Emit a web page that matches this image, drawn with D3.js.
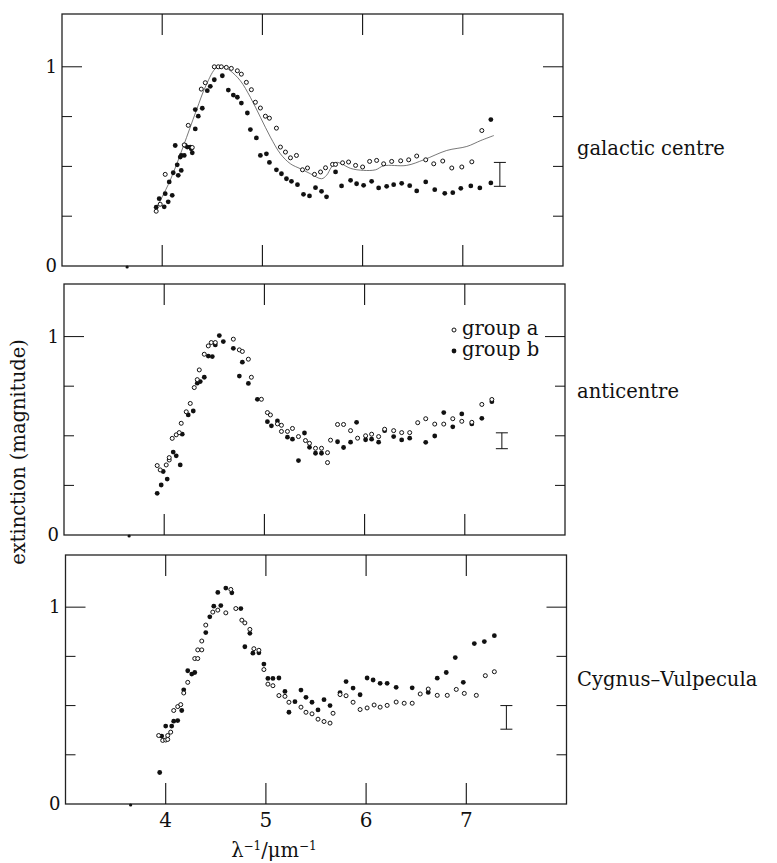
<!DOCTYPE html>
<html>
<head>
<meta charset="utf-8">
<script src="https://cdn.jsdelivr.net/npm/d3@7"></script>
<style>
  body { margin: 0; background: #fff; }
  text { font-family: "DejaVu Serif", serif; fill: #111; }
</style>
</head>
<body>
<div id="chart"></div>
<script>
// values: [λ^-1 (µm^-1), extinction (mag)]

// galactic centre
const gcGroupA = [[3.94,0.275],[3.98,0.31],[4.03,0.46],[4.22,0.608],[4.26,0.706],[4.30,0.595],[4.39,0.888],[4.43,0.92],
  [4.52,1.0],[4.56,1.0],[4.59,1.0],[4.64,0.997],[4.69,0.992],[4.75,0.98],[4.79,0.963],[4.84,0.922],[4.89,0.885],
  [4.93,0.822],[4.98,0.793],[5.03,0.752],[5.07,0.742],[5.14,0.692],[5.18,0.597],[5.23,0.572],[5.28,0.543],[5.34,0.555],
  [5.40,0.483],[5.45,0.492],[5.52,0.46],[5.58,0.472],[5.63,0.493],[5.70,0.51],[5.73,0.51],[5.80,0.518],[5.86,0.522],
  [5.93,0.505],[6.00,0.497],[6.07,0.525],[6.14,0.53],[6.21,0.513],[6.29,0.525],[6.38,0.528],[6.46,0.533],[6.54,0.552],
  [6.63,0.533],[6.71,0.513],[6.80,0.527],[6.89,0.492],[6.99,0.497],[7.09,0.523],[7.19,0.68]];
const gcGroupB = [[3.94,0.295],[3.97,0.338],[4.02,0.297],[4.03,0.363],[4.06,0.322],[4.10,0.355],[4.07,0.422],[4.11,0.468],
  [4.13,0.605],[4.15,0.508],[4.16,0.455],[4.18,0.547],[4.19,0.48],[4.19,0.555],[4.22,0.555],[4.23,0.605],[4.25,0.597],
  [4.28,0.597],[4.29,0.588],[4.30,0.568],[4.33,0.688],[4.33,0.785],[4.36,0.752],[4.40,0.792],[4.45,0.88],[4.48,0.902],
  [4.52,0.935],[4.60,0.955],[4.66,0.883],[4.71,0.858],[4.75,0.847],[4.79,0.818],[4.85,0.768],[4.88,0.685],[4.94,0.643],
  [4.98,0.555],[5.04,0.563],[5.07,0.52],[5.14,0.483],[5.19,0.463],[5.24,0.438],[5.29,0.425],[5.35,0.408],[5.41,0.36],
  [5.47,0.352],[5.53,0.393],[5.59,0.375],[5.64,0.347],[5.73,0.472],[5.79,0.402],[5.88,0.43],[5.94,0.413],[6.01,0.405],
  [6.09,0.425],[6.16,0.392],[6.24,0.40],[6.31,0.408],[6.39,0.415],[6.47,0.403],[6.54,0.377],[6.63,0.422],[6.72,0.383],
  [6.82,0.365],[6.90,0.368],[6.98,0.39],[7.08,0.402],[7.17,0.392],[7.28,0.417],[7.28,0.735]];
const gcCurve = [[3.93,0.28],[4.08,0.43],[4.21,0.60],[4.34,0.78],[4.44,0.91],[4.54,0.995],[4.61,1.0],[4.68,0.98],
  [4.78,0.93],[4.88,0.847],[4.98,0.747],[5.08,0.647],[5.18,0.563],[5.28,0.513],[5.38,0.488],[5.48,0.463],[5.59,0.438],
  [5.64,0.455],[5.69,0.497],[5.74,0.52],[5.79,0.513],[5.88,0.49],[6.01,0.48],[6.13,0.483],[6.21,0.503],[6.44,0.505],
  [6.61,0.533],[6.84,0.58],[7.04,0.60],[7.18,0.63],[7.31,0.655]];

// anticentre
const acGroupA = [[3.93,0.35],[3.96,0.328],[4.02,0.353],[4.05,0.378],[4.05,0.39],[4.08,0.487],[4.12,0.505],[4.15,0.516],
  [4.17,0.563],[4.22,0.621],[4.26,0.663],[4.30,0.743],[4.33,0.783],[4.35,0.832],[4.40,0.911],[4.44,0.953],[4.47,0.97],
  [4.51,0.97],[4.69,0.987],[4.75,0.933],[4.78,0.925],[4.84,0.886],[4.87,0.795],[4.97,0.684],[5.03,0.617],[5.06,0.605],
  [5.13,0.56],[5.17,0.553],[5.17,0.522],[5.23,0.522],[5.28,0.537],[5.34,0.496],[5.41,0.476],[5.45,0.462],[5.51,0.437],
  [5.57,0.437],[5.63,0.415],[5.63,0.365],[5.66,0.478],[5.73,0.557],[5.79,0.557],[5.86,0.526],[5.93,0.488],[6.01,0.5],
  [6.07,0.508],[6.14,0.496],[6.20,0.533],[6.29,0.526],[6.37,0.516],[6.45,0.516],[6.53,0.566],[6.61,0.586],[6.70,0.559],
  [6.79,0.559],[6.88,0.586],[6.97,0.573],[7.07,0.568],[7.17,0.658],[7.27,0.683]];
const acGroupB = [[3.93,0.21],[3.97,0.252],[3.99,0.32],[4.03,0.282],[4.09,0.418],[4.12,0.399],[4.16,0.353],[4.18,0.508],
  [4.24,0.605],[4.29,0.625],[4.33,0.765],[4.36,0.773],[4.40,0.795],[4.44,0.902],[4.48,0.899],[4.51,0.958],[4.55,1.005],
  [4.59,0.975],[4.69,0.941],[4.75,0.801],[4.78,0.871],[4.84,0.764],[4.93,0.684],[5.03,0.571],[5.07,0.55],[5.13,0.575],
  [5.23,0.493],[5.28,0.483],[5.34,0.375],[5.40,0.514],[5.45,0.442],[5.51,0.412],[5.57,0.412],[5.73,0.47],[5.79,0.441],
  [5.86,0.468],[5.92,0.568],[6.01,0.48],[6.07,0.483],[6.14,0.468],[6.20,0.526],[6.29,0.496],[6.37,0.479],[6.45,0.488],
  [6.61,0.467],[6.70,0.499],[6.79,0.617],[6.88,0.545],[6.97,0.610],[7.07,0.56],[7.17,0.588],[7.27,0.672]];

// Cygnus-Vulpecula
const cvGroupA = [[3.93,0.348],[3.97,0.323],[4.00,0.325],[4.02,0.328],[4.02,0.348],[4.05,0.365],[4.08,0.475],[4.12,0.495],
  [4.15,0.505],[4.18,0.564],[4.22,0.618],[4.29,0.739],[4.32,0.739],[4.32,0.783],[4.36,0.783],[4.36,0.828],[4.40,0.909],
  [4.47,0.975],[4.52,0.985],[4.60,0.971],[4.65,1.09],[4.70,0.993],[4.76,0.934],[4.79,0.92],[4.84,0.887],[4.88,0.789],
  [4.93,0.781],[4.98,0.683],[5.02,0.609],[5.07,0.601],[5.13,0.551],[5.19,0.547],[5.23,0.517],[5.35,0.492],[5.40,0.466],
  [5.46,0.458],[5.52,0.431],[5.58,0.419],[5.64,0.411],[5.67,0.461],[5.74,0.556],[5.80,0.55],[5.87,0.517],[5.94,0.48],
  [6.01,0.488],[6.08,0.503],[6.14,0.492],[6.21,0.501],[6.30,0.518],[6.38,0.512],[6.46,0.512],[6.54,0.559],[6.62,0.584],
  [6.71,0.552],[6.81,0.552],[6.90,0.582],[6.98,0.562],[7.10,0.552],[7.19,0.652],[7.28,0.672]];
const cvGroupB = [[3.94,0.16],[3.96,0.345],[4.00,0.396],[4.06,0.396],[4.08,0.421],[4.12,0.424],[4.16,0.475],[4.18,0.58],
  [4.22,0.677],[4.26,0.66],[4.29,0.668],[4.40,0.871],[4.44,0.951],[4.48,1.005],[4.52,1.075],[4.55,1.008],[4.60,1.097],
  [4.66,1.073],[4.75,0.993],[4.79,0.799],[4.84,0.867],[4.87,0.766],[4.93,0.768],[4.98,0.711],[5.02,0.638],[5.07,0.638],
  [5.13,0.64],[5.19,0.572],[5.23,0.466],[5.29,0.52],[5.35,0.579],[5.40,0.542],[5.46,0.517],[5.52,0.478],[5.58,0.53],
  [5.64,0.5],[5.74,0.566],[5.80,0.622],[5.87,0.589],[5.94,0.555],[6.01,0.64],[6.07,0.63],[6.14,0.613],[6.21,0.613],
  [6.30,0.593],[6.46,0.59],[6.62,0.567],[6.71,0.639],[6.80,0.668],[6.89,0.744],[6.97,0.618],[7.08,0.815],[7.18,0.825],
  [7.28,0.855]];

// typical error bar per panel: [x, low, high]
const errorBars = [[7.37,0.40,0.52],[7.37,0.435,0.515],[7.40,0.38,0.50]];
const panelNames = ["galactic centre", "anticentre", "Cygnus\u2013Vulpecula"];
const legendNames = ["group a", "group b"];
const xTicks = [4, 5, 6, 7];
const yMinorTicks = [0.25, 0.5, 0.75];
const yLabelTicks = [0, 1];
const strayMark = 3.65;

// layout (pixel boxes of the three frames in the scan)
const width = 777, height = 863;
const panels = [
  {left: 62,   top: 14,  bottom: 266, a: gcGroupA, b: gcGroupB, curve: gcCurve, labelY: 155},
  {left: 64,   top: 284, bottom: 535, a: acGroupA, b: acGroupB, curve: null,    labelY: 398},
  {left: 65.5, top: 555, bottom: 804, a: cvGroupA, b: cvGroupB, curve: null,    labelY: 686}
];
const plotW = 501;
const ink = "#111";

const svg = d3.select("#chart").append("svg")
  .attr("width", width)
  .attr("height", height);

panels.forEach((p, i) => {
  const x = d3.scaleLinear().domain([3, 8]).range([p.left, p.left + plotW]);
  const y = d3.scaleLinear().domain([0, 1.265]).range([p.bottom, p.top]);
  const g = svg.append("g");

  // frame
  g.append("rect")
    .attr("x", x(3)).attr("y", y(1.265))
    .attr("width", x(8) - x(3)).attr("height", y(0) - y(1.265))
    .attr("fill", "none").attr("stroke", "#222").attr("stroke-width", 1.3);

  // x ticks, bottom and top
  xTicks.forEach(t => {
    g.append("line").attr("x1", x(t)).attr("x2", x(t))
      .attr("y1", y(0)).attr("y2", y(0) - 21).attr("stroke", ink).attr("stroke-width", 1.1);
    g.append("line").attr("x1", x(t)).attr("x2", x(t))
      .attr("y1", y(1.265)).attr("y2", y(1.265) + 21).attr("stroke", ink).attr("stroke-width", 1.1);
  });

  // y ticks, left and right
  yMinorTicks.forEach(t => {
    g.append("line").attr("x1", x(3)).attr("x2", x(3) + 10)
      .attr("y1", y(t)).attr("y2", y(t)).attr("stroke", ink).attr("stroke-width", 1);
    g.append("line").attr("x1", x(8)).attr("x2", x(8) - 10)
      .attr("y1", y(t)).attr("y2", y(t)).attr("stroke", ink).attr("stroke-width", 1);
  });
  g.append("line").attr("x1", x(3)).attr("x2", x(3) + 20)
    .attr("y1", y(1)).attr("y2", y(1)).attr("stroke", ink).attr("stroke-width", 1);
  g.append("line").attr("x1", x(8)).attr("x2", x(8) - 20)
    .attr("y1", y(1)).attr("y2", y(1)).attr("stroke", ink).attr("stroke-width", 1);

  yLabelTicks.forEach(t => {
    g.append("text")
      .attr("x", x(3) - 5).attr("y", y(t) + 6)
      .attr("text-anchor", "end")
      .style("font-size", "18px")
      .text(t);
  });

  // small mark sitting on the bottom edge in each frame
  g.append("circle").attr("cx", x(strayMark)).attr("cy", y(0) + 1).attr("r", 1.6).attr("fill", ink);

  // fitted curve (galactic centre only)
  if (p.curve) {
    g.append("path")
      .datum(p.curve)
      .attr("d", d3.line().x(d => x(d[0])).y(d => y(d[1])).curve(d3.curveCatmullRom))
      .attr("fill", "none").attr("stroke", "#555").attr("stroke-width", 0.8);
  }

  // group b: filled
  g.selectAll(".b").data(p.b).enter().append("circle")
    .attr("class", "b")
    .attr("cx", d => x(d[0])).attr("cy", d => y(d[1]))
    .attr("r", 2.4).attr("fill", ink);

  // group a: open
  g.selectAll(".a").data(p.a).enter().append("circle")
    .attr("class", "a")
    .attr("cx", d => x(d[0])).attr("cy", d => y(d[1]))
    .attr("r", 2.0).attr("fill", "#fff").attr("stroke", ink).attr("stroke-width", 1);

  // error bar
  const eb = errorBars[i];
  g.append("line").attr("x1", x(eb[0])).attr("x2", x(eb[0]))
    .attr("y1", y(eb[1])).attr("y2", y(eb[2])).attr("stroke", ink).attr("stroke-width", 1);
  [eb[1], eb[2]].forEach(v => {
    g.append("line").attr("x1", x(eb[0]) - 6).attr("x2", x(eb[0]) + 6)
      .attr("y1", y(v)).attr("y2", y(v)).attr("stroke", ink).attr("stroke-width", 1);
  });

  // panel name
  svg.append("text")
    .attr("x", 577).attr("y", p.labelY)
    .style("font-size", "19.5px")
    .text(panelNames[i]);

  // bottom axis labels on the last panel
  if (i === panels.length - 1) {
    xTicks.forEach(t => {
      g.append("text")
        .attr("x", x(t)).attr("y", 827)
        .attr("text-anchor", "middle")
        .style("font-size", "20px")
        .text(t);
    });
    const xl = svg.append("text")
      .attr("x", x(5.08)).attr("y", 857)
      .attr("text-anchor", "middle")
      .style("font-size", "19.5px");
    xl.append("tspan").text("\u03bb");
    xl.append("tspan").attr("dy", -7).style("font-size", "12px").text("\u22121");
    xl.append("tspan").attr("dy", 7).text("/\u03bcm");
    xl.append("tspan").attr("dy", -7).style("font-size", "12px").text("\u22121");
  }

  // legend in the anticentre panel
  if (i === 1) {
    legendNames.forEach((name, k) => {
      const by = 335 + k * 21;
      if (k === 0) {
        g.append("circle").attr("cx", 454).attr("cy", by - 5).attr("r", 2.0)
          .attr("fill", "#fff").attr("stroke", ink).attr("stroke-width", 1);
      } else {
        g.append("circle").attr("cx", 454).attr("cy", by - 5).attr("r", 2.4).attr("fill", ink);
      }
      g.append("text").attr("x", 462).attr("y", by)
        .style("font-size", "19.5px")
        .text(name);
    });
  }
});

// y axis title
svg.append("text")
  .attr("transform", "translate(25,452) rotate(-90)")
  .attr("text-anchor", "middle")
  .style("font-size", "19.5px")
  .text("extinction (magnitude)");
</script>
</body>
</html>
